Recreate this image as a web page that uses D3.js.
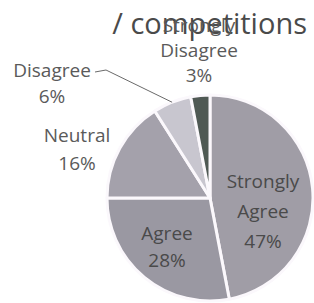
<!DOCTYPE html>
<html>
<head>
<meta charset="utf-8">
<script src="https://cdn.jsdelivr.net/npm/d3@7"></script>
<style>
  body { margin: 0; background: #fff; }
  text { font-family: "Open Sans", sans-serif; }
</style>
</head>
<body>
<div id="chart"></div>
<script>
var width = 314,
    height = 303;

// data
var categories = ["Strongly Agree", "Agree", "Neutral", "Disagree", "Strongly Disagree"];
var percents = [47, 28, 16, 6, 3];
var colors = ["#a09da6", "#9a98a2", "#a4a1ab", "#c8c6cf", "#4f5954"];
var labelLines = [["Strongly", "Agree", "47%"], ["Agree", "28%"], ["Neutral", "16%"], ["Disagree", "6%"], ["Strongly", "Disagree", "3%"]];

var cx = 210, cy = 198, radius = 103;

var svg = d3.select("#chart").append("svg")
    .attr("width", width)
    .attr("height", height);

var pie = d3.pie().sort(null).value(d => d);
var arcs = pie(percents);

var arc = d3.arc().innerRadius(0).outerRadius(radius);

var g = svg.append("g").attr("transform", "translate(" + cx + "," + cy + ")");

g.selectAll("path")
    .data(arcs)
    .join("path")
    .attr("d", arc)
    .attr("fill", (d, i) => colors[i])
    .attr("stroke", "#fbf8fc")
    .attr("stroke-width", 3)
    .attr("stroke-linejoin", "round");

// label anchor points (px relative to page)
var labelPos = [[263, 188], [167, 240], [77, 142], [52, 77], [199, 32]];
var lineGap = [30, 27, 28, 26, 25];
var labelColor = ["#4a4a4a", "#4a4a4a", "#5a5a5a", "#5a5a5a", "#5a5a5a"];

// title (partly overlaps the top label, as in the source)
svg.append("text")
    .attr("x", 307)
    .attr("y", 34)
    .attr("text-anchor", "end")
    .attr("font-size", 29)
    .attr("fill", "#4a4a4a")
    .text("/ competitions");

labelLines.forEach(function(lines, i) {
    var t = svg.append("text")
        .attr("text-anchor", "middle")
        .attr("font-size", 19)
        .attr("fill", labelColor[i]);
    lines.forEach(function(s, k) {
        t.append("tspan")
            .attr("x", labelPos[i][0])
            .attr("y", labelPos[i][1] + k * lineGap[i])
            .text(s);
    });
});

// leader line for Disagree
var mid = (arcs[3].startAngle + arcs[3].endAngle) / 2;
var ex = cx + radius * Math.sin(mid), ey = cy - radius * Math.cos(mid);
svg.append("path")
    .attr("d", d3.line()([[95, 72], [106, 70], [ex, ey]]))
    .attr("fill", "none")
    .attr("stroke", "#6a6a6a")
    .attr("stroke-width", 1);
</script>
</body>
</html>
